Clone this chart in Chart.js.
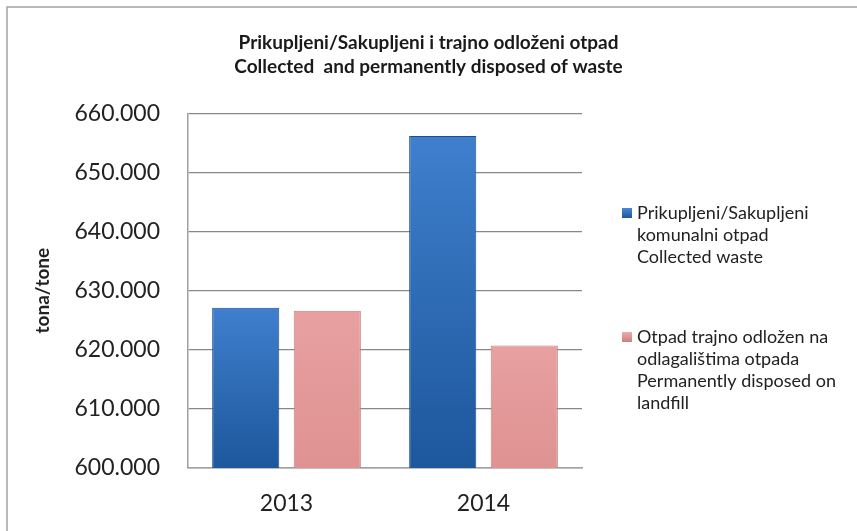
<!DOCTYPE html>
<html>
<head>
<meta charset="utf-8">
<script src="https://cdn.jsdelivr.net/npm/chart.js@4/dist/chart.umd.min.js"></script>
<style>
  html, body { margin: 0; padding: 0; background: #fff; }
  #wrap { width: 857px; height: 531px; position: relative; }
</style>
</head>
<body>
<div id="wrap"><canvas id="waste_bar"></canvas></div>
<script>
const years = ['2013', '2014'];
const collected = [627100, 656150];
const disposed = [626600, 620700];

const titleLines = [
  'Prikupljeni/Sakupljeni i trajno odloženi otpad',
  'Collected  and permanently disposed of waste'
];
const legendLines = [
  ['Prikupljeni/Sakupljeni', 'komunalni otpad', 'Collected waste'],
  ['Otpad trajno odložen na', 'odlagalištima otpada', 'Permanently disposed on', 'landfill']
];

const FONT = 'Lato, "Open Sans", "DejaVu Sans", sans-serif';

// vertical gradient per bar, from its top down to the axis
function barFill(top, bottom) {
  return function (context) {
    const chart = context.chart;
    const area = chart.chartArea;
    if (!area || context.parsed == null) return top;
    const yTop = chart.scales.y.getPixelForValue(context.parsed.y);
    const g = chart.ctx.createLinearGradient(0, yTop, 0, area.bottom);
    g.addColorStop(0, top);
    g.addColorStop(1, bottom);
    return g;
  };
}

// page frame + legend on the right, drawn by hand so labels can wrap
const frameAndLegend = {
  id: 'frameAndLegend',
  beforeDraw(chart) {
    const c = chart.ctx;
    c.save();
    c.fillStyle = '#fff';
    c.fillRect(0, 0, chart.width, chart.height);
    c.strokeStyle = '#a3a3a3';
    c.lineWidth = 1.5;
    c.strokeRect(7, 7, chart.width + 10, chart.height + 10);
    c.restore();
  },
  afterDraw(chart) {
    const c = chart.ctx;
    const marks = [['#4a88d4', '#1f569b'], ['#ecabab', '#c98080']];
    const starts = [213, 337];
    c.save();
    c.font = '18px ' + FONT;
    c.textBaseline = 'middle';
    legendLines.forEach(function (lines, i) {
      const y0 = starts[i];
      const g = c.createLinearGradient(0, y0 - 5, 0, y0 + 5);
      g.addColorStop(0, marks[i][0]);
      g.addColorStop(1, marks[i][1]);
      c.fillStyle = g;
      c.fillRect(622, y0 - 5, 10, 10);
      c.fillStyle = '#222';
      lines.forEach(function (t, j) {
        c.fillText(t, 637, y0 + j * 22);
      });
    });
    c.restore();
  }
};

new Chart(document.getElementById('waste_bar'), {
  type: 'bar',
  data: {
    labels: years,
    datasets: [{
      label: 'Collected waste',
      data: collected,
      backgroundColor: barFill('#3f7fcd', '#1d579c'),
      borderColor: '#1e4f8a',
      borderWidth: 1,
      categoryPercentage: 0.828,
      barPercentage: 0.823
    }, {
      label: 'Permanently disposed on landfill',
      data: disposed,
      backgroundColor: barFill('#e8a0a0', '#df9292'),
      borderColor: '#c08080',
      borderWidth: 1,
      categoryPercentage: 0.828,
      barPercentage: 0.823
    }]
  },
  options: {
    responsive: true,
    maintainAspectRatio: false,
    animation: false,
    layout: { padding: 0 },
    plugins: {
      legend: { display: false },
      tooltip: { enabled: false },
      title: {
        display: true,
        text: titleLines,
        color: '#1a1a1a',
        font: { family: FONT, size: 19, weight: 'bold', lineHeight: 1.27 },
        padding: { top: 31, bottom: 34 }
      }
    },
    scales: {
      x: {
        grid: { display: false },
        border: { color: '#a0a0a0', width: 1.5 },
        ticks: { color: '#222', font: { family: FONT, size: 23 }, padding: 14 },
        afterFit(scale) { scale.height = 63; }
      },
      y: {
        min: 600000,
        max: 660000,
        ticks: {
          stepSize: 10000,
          color: '#222',
          padding: 28,
          font: { family: FONT, size: 23 },
          callback: function (v) { return (v / 1000).toFixed(3); }
        },
        grid: { color: '#888888', lineWidth: 1.2, drawTicks: false },
        border: { color: '#a0a0a0', width: 1.5 },
        title: {
          display: true,
          text: 'tona/tone',
          color: '#222',
          font: { family: FONT, size: 19, weight: 'bold', lineHeight: 1.2 },
          padding: { top: 31, bottom: 0 }
        },
        afterFit(scale) { scale.width = 188; }
      },
      // empty right-hand axis: only keeps room for the legend
      side: {
        position: 'right',
        display: true,
        grid: { display: false },
        border: { display: false },
        ticks: { display: false },
        afterFit(scale) { scale.width = 275; }
      }
    }
  },
  plugins: [frameAndLegend]
});
</script>
</body>
</html>
